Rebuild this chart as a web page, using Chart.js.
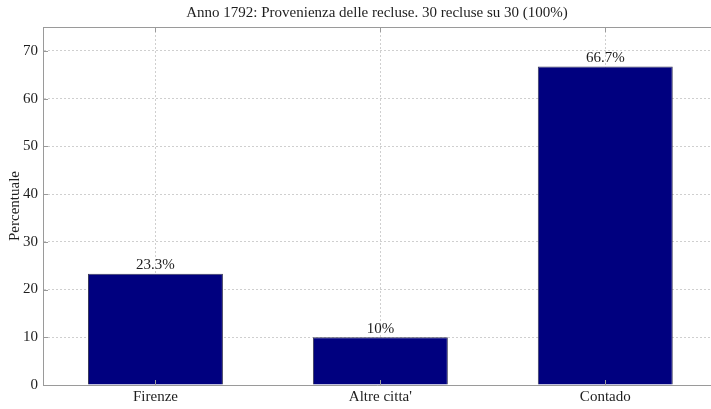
<!DOCTYPE html>
<html>
<head>
<meta charset="utf-8">
<script src="https://cdn.jsdelivr.net/npm/chart.js@4/dist/chart.umd.min.js"></script>
<style>
  html, body { margin: 0; padding: 0; background: #fff; overflow: hidden; }
  #box { width: 711px; height: 409px; position: relative; }
</style>
</head>
<body>
<div id="box"><canvas id="grafico"></canvas></div>
<script>
// Dati del grafico
const categorie = ['Firenze', "Altre citta'", 'Contado'];
const percentuali = [23.3, 10, 66.7];
const tickY = [0, 10, 20, 30, 40, 50, 60, 70];
const titolo = 'Anno 1792: Provenienza delle recluse. 30 recluse su 30 (100%)';

const FONT = "'Liberation Serif', 'DejaVu Serif', serif";
const coloreAsse = '#9a9a9a';
const coloreTesto = '#1e1e1e';

// Cornice superiore, tacche interne ed etichette sopra le barre
const stileMatlab = {
    id: 'stileMatlab',
    afterDatasetsDraw(chart) {
        const { ctx, chartArea: a, scales } = chart;
        ctx.save();
        ctx.strokeStyle = coloreAsse;
        ctx.lineWidth = 1;
        ctx.beginPath();
        ctx.moveTo(a.left, a.top + 0.5);
        ctx.lineTo(a.right, a.top + 0.5);
        // tacche asse y
        tickY.forEach(v => {
            const y = Math.round(scales.y.getPixelForValue(v)) + 0.5;
            ctx.moveTo(a.left, y);
            ctx.lineTo(a.left + 5, y);
        });
        // tacche asse x
        categorie.forEach((_, i) => {
            const x = Math.round(scales.x.getPixelForValue(i)) + 0.5;
            ctx.moveTo(x, a.top); ctx.lineTo(x, a.top + 5);
            ctx.moveTo(x, a.bottom); ctx.lineTo(x, a.bottom - 5);
        });
        ctx.stroke();

        // etichette percentuali
        ctx.fillStyle = coloreTesto;
        ctx.font = '15px ' + FONT;
        ctx.textAlign = 'center';
        ctx.textBaseline = 'bottom';
        chart.getDatasetMeta(0).data.forEach((barra, i) => {
            const testo = (Math.round(percentuali[i] * 10) / 10) + '%';
            ctx.fillText(testo, barra.x, barra.y - 1);
        });
        ctx.restore();
    }
};

const ctx = document.getElementById('grafico').getContext('2d');
new Chart(ctx, {
    type: 'bar',
    data: {
        datasets: [{
            data: percentuali.map((v, i) => ({ x: i, y: v })),
            backgroundColor: '#00007f',
            borderColor: '#3a3a5a',
            borderWidth: 1,
            categoryPercentage: 1,
            barPercentage: 0.6
        }]
    },
    options: {
        responsive: true,
        maintainAspectRatio: false,
        animation: false,
        layout: { padding: 0 },
        plugins: {
            legend: { display: false },
            tooltip: { enabled: false },
            title: {
                display: true,
                fullSize: false,
                text: titolo,
                color: coloreTesto,
                font: { family: FONT, size: 15, weight: 'normal', lineHeight: 1.2 },
                padding: { top: 4, bottom: 5 }
            }
        },
        scales: {
            x: {
                type: 'linear',
                offset: false,
                // il riquadro prosegue oltre il bordo destro
                min: -0.5,
                max: 2.47,
                grid: {
                    offset: false,
                    color: '#cfcfcf',
                    drawTicks: false
                },
                border: { color: coloreAsse, dash: [2, 2] },
                ticks: {
                    stepSize: 1,
                    includeBounds: false,
                    autoSkip: false,
                    maxRotation: 0,
                    color: coloreTesto,
                    padding: 3,
                    font: { family: FONT, size: 15 },
                    callback: (v) => categorie[v] ?? ''
                },
                afterFit: (s) => { s.height = 24; }
            },
            y: {
                min: 0,
                max: 75,
                grid: {
                    color: '#cfcfcf',
                    drawTicks: false
                },
                border: { color: coloreAsse, dash: [2, 2] },
                ticks: {
                    stepSize: 10,
                    includeBounds: false,
                    color: coloreTesto,
                    padding: 5,
                    font: { family: FONT, size: 15 }
                },
                title: {
                    display: true,
                    text: 'Percentuale',
                    color: coloreTesto,
                    padding: { top: 6, bottom: 0 },
                    font: { family: FONT, size: 15 }
                },
                afterFit: (s) => { s.width = 43; }
            }
        }
    },
    plugins: [stileMatlab]
});
</script>
</body>
</html>
